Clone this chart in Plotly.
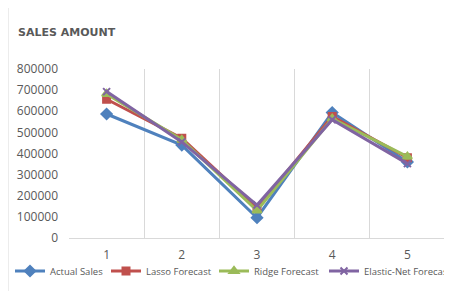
import plotly.graph_objects as go

categories = ["1", "2", "3", "4", "5"]
actual_sales = [587000, 440000, 96000, 594000, 360000]
lasso_forecast = [657000, 472000, 142000, 575000, 380000]
ridge_forecast = [682000, 465000, 130000, 565000, 385000]
elastic_forecast = [693000, 455000, 156000, 560000, 352000]
y_ticks = [0, 100000, 200000, 300000, 400000, 500000, 600000, 700000, 800000]

series = [
    ("Actual Sales", actual_sales, "#4F81BD", "diamond", 8),
    ("Lasso Forecast", lasso_forecast, "#C0504D", "square", 7),
    ("Ridge Forecast", ridge_forecast, "#9BBB59", "triangle-up", 8),
    ("Elastic-Net Forecast", elastic_forecast, "#8064A2", "x-thin-open", 7),
]
legend_ids = ["legend", "legend2", "legend3", "legend4"]
legend_text_x = [49, 145, 253, 363]  # screen px where each legend label starts

fig = go.Figure()
for (name, vals, color, sym, size), lid in zip(series, legend_ids):
    fig.add_trace(go.Scatter(
        x=categories, y=vals, name=name, mode="lines+markers", legend=lid,
        line=dict(color=color, width=3),
        marker=dict(symbol=sym, size=size, color=color,
                    line=dict(color=color, width=2)),
    ))

# page body has an 8px margin, so the figure is offset by (8, 8) on screen
OFF = 8
W, H = 452 - OFF, 291 - OFF
ml, mr, mt, mb = 69 - OFF, 7, 69 - OFF, 53
pw, ph = W - ml - mr, H - mt - mb

def px(x):  # x in screen pixels
    return (x - OFF - ml) / pw

def py(y):  # y in screen pixels
    return (H - mb - (y - OFF)) / ph

legends = {}
for lid, tx in zip(legend_ids, legend_text_x):
    legends[lid] = dict(orientation="h", x=px(tx - 39), xanchor="left", y=py(271), yanchor="middle",
                        font=dict(size=9.5, color="#595959"), bgcolor="rgba(0,0,0,0)",
                        itemwidth=30, tracegroupgap=0, borderwidth=0)

fig.update_layout(
    width=W, height=H,
    margin=dict(l=ml, r=mr, t=mt, b=mb, autoexpand=False),
    paper_bgcolor="white", plot_bgcolor="white",
    font=dict(family="Open Sans, Noto Sans, sans-serif", color="#595959", size=10),
    showlegend=True,
    title=dict(text="<b>SALES AMOUNT</b>", x=(18 - OFF) / W, xanchor="left",
               y=1 - (32 - OFF) / H, yanchor="middle",
               font=dict(family="DejaVu Sans, sans-serif", size=11, color="#595959")),
    xaxis=dict(type="category", range=[-0.5, 4.5], showgrid=True, gridcolor="#D9D9D9",
               tickson="boundaries", ticks="", showline=True, linecolor="#D9D9D9",
               linewidth=1, ticklabelstandoff=6, tickfont=dict(size=12, color="#595959"),
               zeroline=False),
    yaxis=dict(range=[0, 800000], tickvals=y_ticks, ticktext=[str(v) for v in y_ticks],
               showgrid=False, zeroline=False, showline=False, ticks="",
               ticklabelstandoff=10, tickfont=dict(size=12, color="#595959")),
    shapes=[dict(type="rect", xref="paper", yref="paper",
                 x0=px(8), x1=px(470), y0=py(300), y1=py(7),
                 line=dict(color="#D9D9D9", width=1), fillcolor="rgba(0,0,0,0)", layer="below")],
    **legends,
)

fig.write_html("out.html")
